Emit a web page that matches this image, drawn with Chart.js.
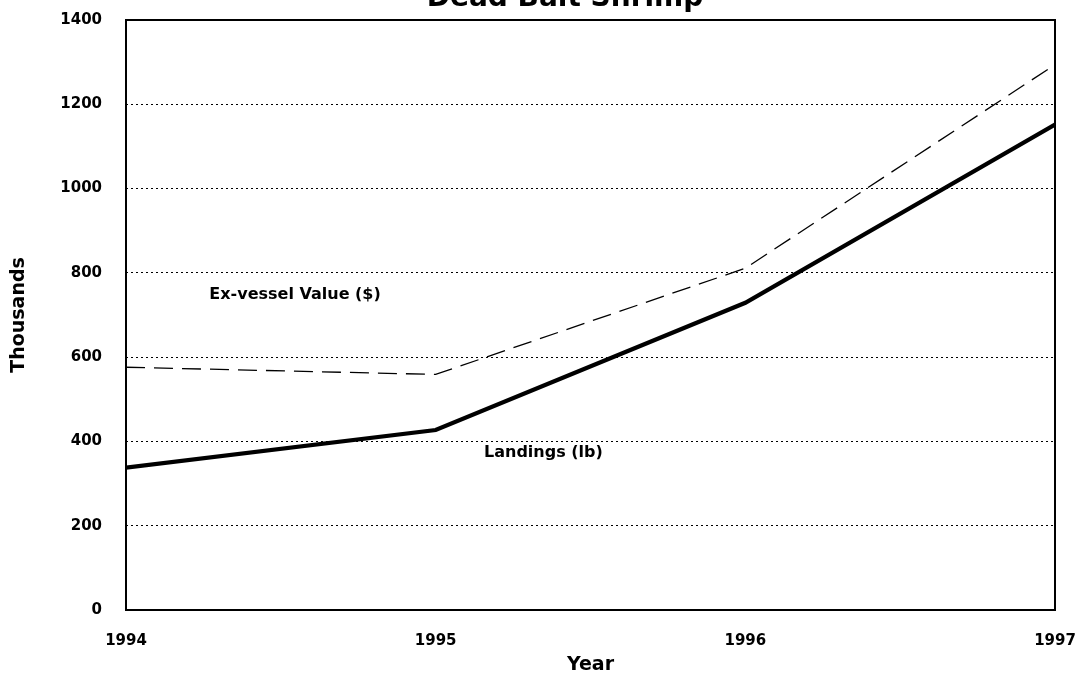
<!DOCTYPE html>
<html>
<head>
<meta charset="utf-8">
<script src="https://cdn.jsdelivr.net/npm/chart.js@4"></script>
<style>
  html, body { margin: 0; padding: 0; background: #fff; }
  #wrap { position: relative; width: 1080px; height: 683px; }
</style>
</head>
<body>
<div id="wrap"><canvas id="c" width="1080" height="683"></canvas></div>
<script>
const chartTitle = 'Dead Bait Shrimp';
const years = [1994, 1995, 1996, 1997];
const landings = [338, 427, 729, 1152];
const exVessel = [576, 559, 811, 1294];
const yTicks = [0, 200, 400, 600, 800, 1000, 1200, 1400];
const seriesLabels = ['Landings (lb)', 'Ex-vessel Value ($)'];
const annotationText = ['Ex-vessel Value ($)', 'Landings (lb)'];
const annotationX = [1994.546, 1995.348];
const annotationY = [749, 373];

const FONT = '"DejaVu Sans", "Liberation Sans", Arial, sans-serif';

const boxAndText = {
  id: 'boxAndText',
  afterDraw(chart) {
    const { ctx, chartArea: a, scales: { x, y } } = chart;
    ctx.save();
    ctx.strokeStyle = '#000';
    ctx.lineWidth = 2;
    ctx.setLineDash([]);
    ctx.strokeRect(a.left, a.top, a.right - a.left, a.bottom - a.top);
    ctx.fillStyle = '#000';
    ctx.font = 'bold 16px ' + FONT;
    ctx.textAlign = 'center';
    ctx.textBaseline = 'middle';
    annotationText.forEach((t, i) => {
      ctx.fillText(t, x.getPixelForValue(annotationX[i]), y.getPixelForValue(annotationY[i]));
    });
    ctx.font = 'bold 28px ' + FONT;
    ctx.textBaseline = 'alphabetic';
    ctx.fillText(chartTitle, 565, 6);
    ctx.restore();
  }
};

new Chart(document.getElementById('c'), {
  type: 'line',
  data: {
    datasets: [
      {
        label: seriesLabels[0],
        data: years.map((yr, i) => ({ x: yr, y: landings[i] })),
        borderColor: '#000',
        borderWidth: 4.2,
        pointRadius: 0,
        tension: 0,
        fill: false
      },
      {
        label: seriesLabels[1],
        data: years.map((yr, i) => ({ x: yr, y: exVessel[i] })),
        borderColor: '#000',
        borderWidth: 1.3,
        borderDash: [19, 9],
        pointRadius: 0,
        tension: 0,
        fill: false
      }
    ]
  },
  options: {
    responsive: false,
    animation: false,
    layout: { padding: { top: 20, right: 25, left: 0, bottom: 0 } },
    plugins: {
      legend: { display: false },
      title: { display: false },
      tooltip: { enabled: false }
    },
    scales: {
      x: {
        type: 'linear',
        min: years[0],
        max: years[years.length - 1],
        afterBuildTicks: s => { s.ticks = years.map(v => ({ value: v })); },
        afterFit: s => { s.height = 73; s.paddingLeft = 0; s.paddingRight = 0; },
        grid: { display: false, drawTicks: false },
        border: { display: false },
        ticks: {
          padding: 22,
          color: '#000',
          maxRotation: 0,
          font: { family: FONT, size: 15, weight: 'bold' },
          callback: v => String(v)
        },
        title: {
          display: true,
          text: 'Year',
          color: '#000',
          font: { family: FONT, size: 19, weight: 'bold' },
          padding: { top: 0, bottom: 7 }
        }
      },
      y: {
        min: 0,
        max: 1400,
        afterBuildTicks: s => { s.ticks = yTicks.map(v => ({ value: v })); },
        afterFit: s => { s.width = 126; s.paddingTop = 0; s.paddingBottom = 0; },
        grid: {
          drawTicks: false,
          lineWidth: 1,
          color: c => (c.tick && (c.tick.value === 0 || c.tick.value === 1400)) ? 'rgba(0,0,0,0)' : '#000'
        },
        border: { display: false, dash: [2, 3] },
        ticks: {
          padding: 24,
          color: '#000',
          font: { family: FONT, size: 15, weight: 'bold' },
          callback: v => String(v)
        },
        title: {
          display: true,
          text: 'Thousands',
          color: '#000',
          font: { family: FONT, size: 19, weight: 'bold' },
          padding: { top: 8, bottom: 0 }
        }
      }
    }
  },
  plugins: [boxAndText]
});
</script>
</body>
</html>
